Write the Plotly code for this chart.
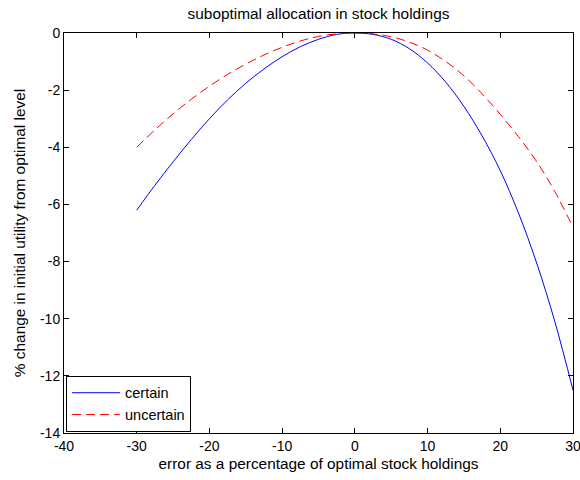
import plotly.graph_objects as go

# error in stock holdings, percent of the optimal allocation
error_pct = [-30, -27.5, -25, -22.5, -20, -17.5, -15, -12.5, -10, -7.5, -5, -2.5, 0,
             2.5, 5, 7.5, 10, 12.5, 15, 17.5, 20, 22.5, 25, 27.5, 30]

# % change in initial utility relative to the optimal level
certain = [-6.2, -5.33, -4.51, -3.73, -3.0, -2.34, -1.76, -1.26, -0.83, -0.48, -0.22, -0.05, 0.0,
           -0.05, -0.22, -0.55, -1.05, -1.72, -2.57, -3.6, -4.82, -6.3, -8.05, -10.1, -12.5]
uncertain = [-4.0, -3.39, -2.83, -2.32, -1.86, -1.45, -1.09, -0.77, -0.5, -0.28, -0.12, -0.03, 0.0,
             -0.03, -0.13, -0.32, -0.6, -1.0, -1.5, -2.13, -2.85, -3.63, -4.5, -5.55, -6.8]

x_ticks = [-40, -30, -20, -10, 0, 10, 20, 30]
y_ticks = [-14, -12, -10, -8, -6, -4, -2, 0]

FONT = "Liberation Sans, Arial, sans-serif"
FS = 15.4      # titles
FS_TICK = 14   # tick labels
FS_LEG = 14.5  # legend entries

fig = go.Figure()
fig.add_trace(go.Scatter(
    x=error_pct, y=certain, name="certain", mode="lines",
    line=dict(color="#0000ff", width=1, shape="spline"),
))
fig.add_trace(go.Scatter(
    x=error_pct, y=uncertain, name="uncertain", mode="lines",
    line=dict(color="#ff0000", width=1, dash="9px,5px", shape="spline"),
))

axis_common = dict(
    showgrid=False, zeroline=False, automargin=False,
    showline=True, linecolor="black", linewidth=1, mirror="ticks",
    ticks="inside", ticklen=5, tickwidth=1, tickcolor="black",
    ticklabeloverflow="allow",
    tickfont=dict(family=FONT, size=FS_TICK, color="black"),
)

fig.update_layout(
    width=580, height=480,
    margin=dict(l=64, r=7, t=33, b=47, autoexpand=False),
    paper_bgcolor="white", plot_bgcolor="white",
    font=dict(family=FONT, size=FS, color="black"),
    title=dict(text="suboptimal allocation in stock holdings",
               x=0.5, xref="paper", xanchor="center",
               y=1, yref="container", yanchor="top", pad=dict(t=8),
               font=dict(family=FONT, size=FS, color="black")),
    xaxis=dict(range=[-40, 30], tickvals=x_ticks,
               ticktext=[str(v) for v in x_ticks],
               title=dict(text="error as a percentage of optimal stock holdings",
                          standoff=5, font=dict(family=FONT, size=FS)),
               **axis_common),
    yaxis=dict(range=[-14, 0], tickvals=y_ticks,
               ticktext=[str(v) for v in y_ticks],
               title=dict(text="% change in initial utility from optimal level",
                          standoff=10, font=dict(family=FONT, size=FS)),
               **axis_common),
    legend=dict(x=0.004, y=0.003, xanchor="left", yanchor="bottom",
                bgcolor="white", bordercolor="black", borderwidth=1,
                font=dict(family=FONT, size=FS_LEG, color="black"),
                itemwidth=48, tracegroupgap=0),
    showlegend=True,
)

fig.write_html("out.html")
